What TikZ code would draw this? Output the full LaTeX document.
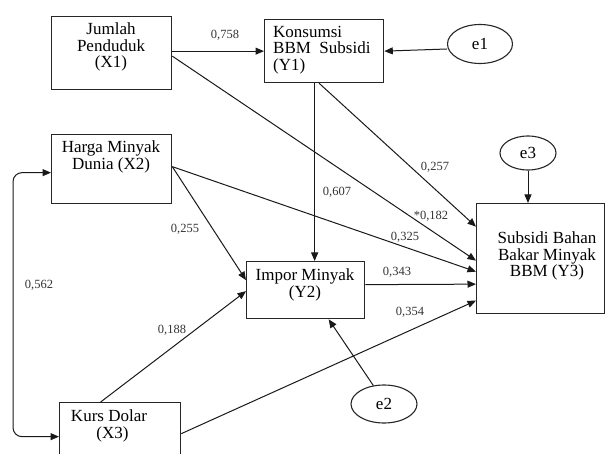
\documentclass[tikz,border=0pt]{standalone}
\usepackage{fontspec}
\setmainfont{Liberation Serif}
\usetikzlibrary{arrows.meta,shapes.geometric}

\begin{document}
\begin{tikzpicture}[x=1pt,y=-1pt,
  box/.style={draw=black!85,line width=1.3pt,inner sep=0pt,anchor=north west},
  txt/.style={inner sep=0pt,align=center,font=\fontsize{17}{16.5}\selectfont},
  err/.style={draw=black!85,line width=1.1pt,ellipse,inner sep=0pt,font=\fontsize{17}{17}\selectfont},
  arr/.style={-{Triangle[length=8.5pt,width=7pt]},line width=1pt,black!90},
  coef/.style={inner sep=0pt,font=\fontsize{12.5}{13}\selectfont,text=black!80}]
\useasboundingbox (0,0) rectangle (605,454);
\node[box,minimum width=120pt,minimum height=73pt] (x1) at (51,16) {};
\node[box,minimum width=119pt,minimum height=63pt] (y1) at (264,19) {};
\node[box,minimum width=120pt,minimum height=69pt] (x2) at (51,134) {};
\node[box,minimum width=118pt,minimum height=57pt] (y2) at (246,261) {};
\node[box,minimum width=128pt,minimum height=110pt] (y3) at (476,203) {};
\node[box,minimum width=121pt,minimum height=68pt] (x3) at (59,402) {};
\node[txt] (x1t) at (111,47) {Jumlah\\Penduduk\\(X1)};
\node[txt,align=left,anchor=west] (y1t) at (273,50) {Konsumsi\\BBM\ \ Subsidi\\(Y1)};
\node[txt] (x2t) at (111,157) {Harga Minyak\\Dunia (X2)};
\node[txt] (y2t) at (305,285) {Impor Minyak\\(Y2)};
\node[txt] (y3t) at (547,256) {Subsidi Bahan\\Bakar Minyak\\BBM (Y3)};
\node[txt] (x3t) at (109,426) {Kurs Dolar\\\hspace{7pt}(X3)};
\node[err,minimum width=65pt,minimum height=39pt] (e1) at (480,44) {e1};
\node[err,minimum width=56pt,minimum height=34pt] (e3) at (528,153) {e3};
\node[err,minimum width=66pt,minimum height=38pt] (e2) at (384,404) {e2};
\draw[arr] (x1.east |- y1.west) -- (y1.west);
\draw[arr] ([yshift=-5pt]e1.west) -- (y1.east);
\draw[arr] ([yshift=-3pt]x1.east) -- ([yshift=-2pt]y3.west);
\draw[arr] ([xshift=-5pt]y1.south) -- ([yshift=32pt]y3.west);
\coordinate (y1drop) at ([xshift=-9.5pt]y1.south);
\draw[arr] (y1drop) -- (y1drop |- y2.north);
\draw[arr] ([yshift=2.5pt]x2.east) -- ([yshift=-13pt]y3.west);
\draw[arr] ([yshift=2.5pt]x2.east) -- ([yshift=10pt]y2.west);
\draw[arr] ([yshift=5.5pt]y2.east) -- ([yshift=-25.5pt]y3.west);
\draw[arr] ([xshift=-19.5pt]x3.north) -- ([yshift=-1pt]y2.west);
\draw[arr] ([yshift=3pt]x3.east) -- ([yshift=-42pt]y3.west);
\draw[arr] (e2.120) -- ([xshift=23pt]y2.south);
\draw[arr] (e3.south) -- (e3.south |- y3.north);
\draw[arr,{Triangle[length=8.5pt,width=7pt]}-{Triangle[length=8.5pt,width=7pt]},rounded corners=9pt]
  ([yshift=-3.5pt]x2.west) -| ([xshift=-46pt]x3.west) -- (x3.west);
\node[coef] (c758) at (225,35) {0,758};
\node[coef] (c257) at (435,167) {0,257};
\node[coef] (c607) at (337,192) {0,607};
\node[coef] (c182) at (431,216) {*0,182};
\node[coef] (c325) at (405,237) {0,325};
\node[coef] (c343) at (397,272) {0,343};
\node[coef] (c354) at (410,312) {0,354};
\node[coef] (c255) at (185,229) {0,255};
\node[coef] (c188) at (172,330) {0,188};
\node[coef] (c562) at (39,285) {0,562};
\end{tikzpicture}
\end{document}
